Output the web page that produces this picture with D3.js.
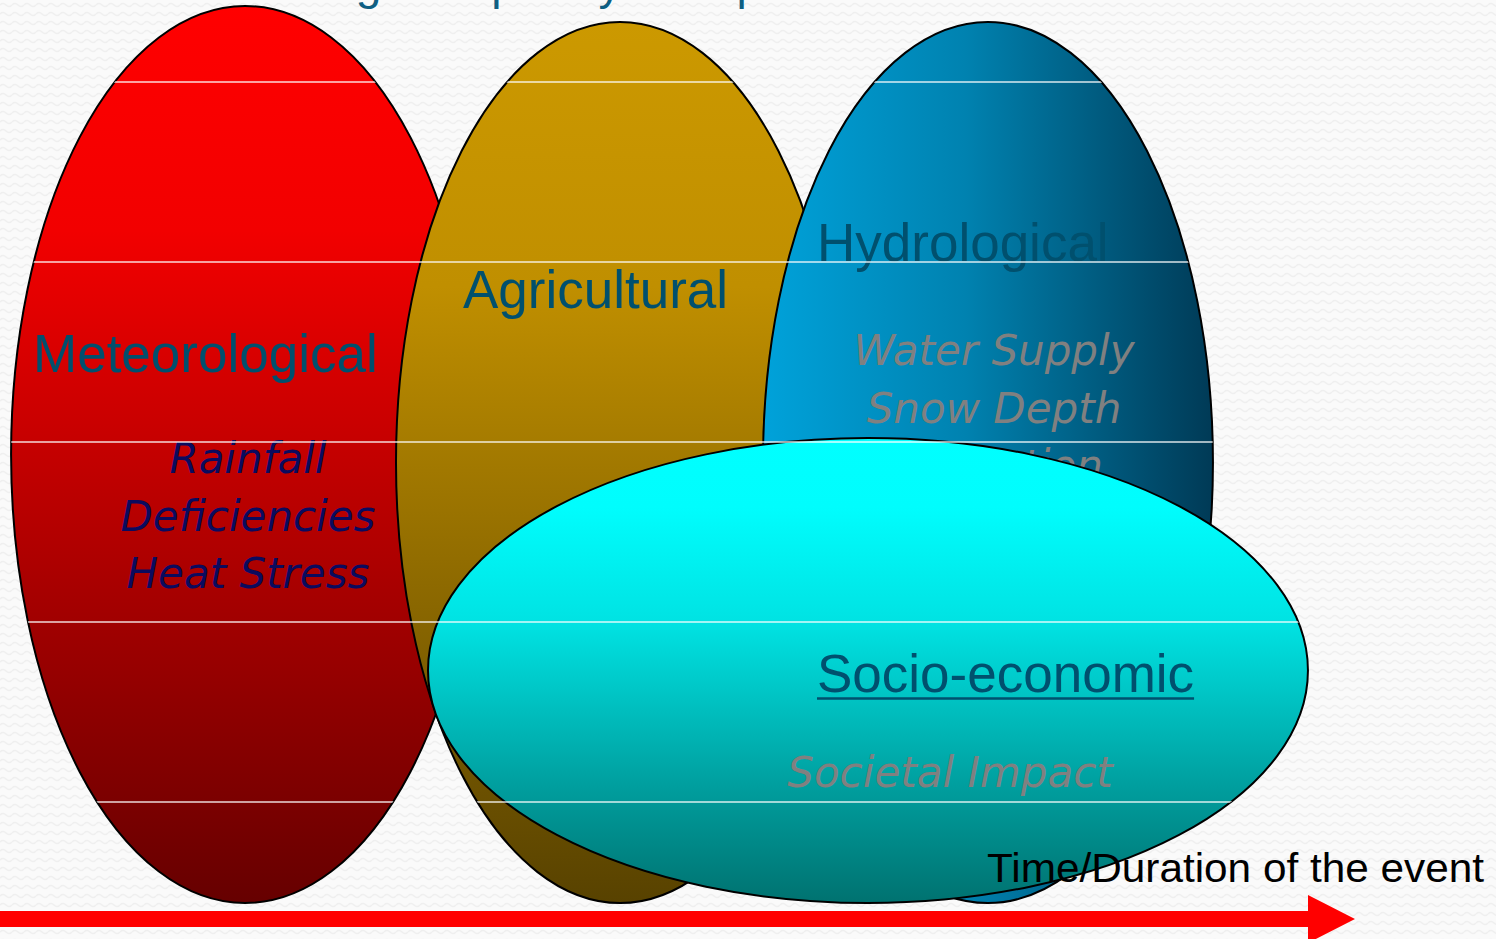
<!DOCTYPE html>
<html>
<head>
<meta charset="utf-8">
<script src="https://cdn.jsdelivr.net/npm/d3@7"></script>
<style>
  html, body { margin: 0; padding: 0; background: #f9f9f9; overflow: hidden; }
  svg { display: block; }
</style>
</head>
<body>
<script>
// ---- Data (in % of time axis / % of impact axis) ----
const droughtTypes = ["Meteorological", "Agricultural", "Hydrological", "Socio-economic"];
const timeStart   = [0.74, 26.47, 51.0, 28.61];
const timeEnd     = [32.02, 56.42, 81.08, 87.43];
const levelTop    = [0.64, 2.34, 2.34, 46.65];
const levelBottom = [96.17, 96.17, 96.17, 96.17];
const indicators  = [
  ["Rainfall", "Deficiencies", "Heat Stress"],
  [],
  ["Water Supply", "Snow Depth", "Infiltration"],
  ["Societal Impact"]
];
const titleText = "Increasing Complexity of Impacts";
const axisLabel = "Time/Duration of the event";

// ---- Layout ----
const W = 1496, H = 939;
const x = d3.scaleLinear().domain([0, 100]).range([0, W]);
const y = d3.scaleLinear().domain([0, 100]).range([0, H]);

const svg = d3.select("body").append("svg").attr("width", W).attr("height", H);
const defs = svg.append("defs");

// background pattern (faint waves)
const pat = defs.append("pattern").attr("id", "bgwave")
  .attr("patternUnits", "userSpaceOnUse").attr("width", 12).attr("height", 9);
pat.append("rect").attr("width", 12).attr("height", 9).attr("fill", "#fafafa");
pat.append("path").attr("d", "M0,5 Q3,2 6,5 T12,5")
  .attr("fill", "none").attr("stroke", "#efefef").attr("stroke-width", 1.4);
svg.append("rect").attr("width", W).attr("height", H).attr("fill", "url(#bgwave)");

// gradients
const gradSpecs = [
  { id: "g0", x2: 0, y2: 1, stops: [[0, "#ff0000"], [0.25, "#f20000"], [1, "#660000"]] },
  { id: "g1", x2: 0, y2: 1, stops: [[0, "#cc9900"], [0.3, "#c08f00"], [1, "#584200"]] },
  { id: "g2", x2: 1, y2: 0, stops: [[0, "#00a2da"], [0.45, "#0082b0"], [1, "#003a56"]] },
  { id: "g3", x2: 0, y2: 1, stops: [[0, "#00ffff"], [0.15, "#00fdfd"], [0.4, "#00e2e2"], [0.75, "#009e9e"], [1, "#007270"]] }
];
gradSpecs.forEach(g => {
  const lg = defs.append("linearGradient").attr("id", g.id)
    .attr("x1", 0).attr("y1", 0).attr("x2", g.x2).attr("y2", g.y2);
  g.stops.forEach(s => lg.append("stop").attr("offset", s[0]).attr("stop-color", s[1]));
});

// clip path: union of ellipses (for the white rulings)
const clip = defs.append("clipPath").attr("id", "shapes");
const ell = i => ({
  cx: (x(timeStart[i]) + x(timeEnd[i])) / 2,
  cy: (y(levelTop[i]) + y(levelBottom[i])) / 2,
  rx: (x(timeEnd[i]) - x(timeStart[i])) / 2,
  ry: (y(levelBottom[i]) - y(levelTop[i])) / 2
});
clip.selectAll("ellipse").data(d3.range(droughtTypes.length)).join("ellipse")
  .attr("cx", i => ell(i).cx).attr("cy", i => ell(i).cy)
  .attr("rx", i => ell(i).rx).attr("ry", i => ell(i).ry);

// title (only its descenders reach into the visible area, as in the reference)
svg.append("text").attr("x", 169).attr("y", -1)
  .attr("font-family", "'Liberation Sans', Arial, sans-serif").attr("font-size", 46)
  .attr("fill", "#0f5f82").text(titleText);

// header label layout: [x, baseline]
const headPos = [[33, 372], [463, 308], [817, 261], [817, 692]];
// indicator layout: [center x, first baseline]
const indPos = [[248, 473], [620, 560], [994, 365], [950, 787]];
const indColor = ["#0b0b5e", "#0b0b5e", "#808080", "#808080"];

const groups = svg.selectAll("g.type").data(d3.range(droughtTypes.length)).join("g").attr("class", "type");
groups.append("ellipse")
  .attr("cx", i => ell(i).cx).attr("cy", i => ell(i).cy)
  .attr("rx", i => ell(i).rx).attr("ry", i => ell(i).ry)
  .attr("fill", i => `url(#g${i})`).attr("stroke", "#000").attr("stroke-width", 2);

groups.append("text")
  .attr("x", i => headPos[i][0]).attr("y", i => headPos[i][1])
  .attr("font-family", "'Liberation Sans', Arial, sans-serif").attr("font-size", 53)
  .attr("fill", "#00506e").text(i => droughtTypes[i]);

groups.each(function(i) {
  const g = d3.select(this);
  g.selectAll("text.ind").data(indicators[i]).join("text").attr("class", "ind")
    .attr("x", indPos[i][0]).attr("y", (d, k) => indPos[i][1] + k * 57.5)
    .attr("text-anchor", "middle")
    .attr("font-family", "'DejaVu Sans', Verdana, sans-serif").attr("font-style", "oblique")
    .attr("font-size", 42).attr("fill", indColor[i]).text(d => d);
});

// underline for Socio-economic
const socT = groups.filter(i => i === 3).select("text");
const socLen = socT.node().getComputedTextLength();
groups.filter(i => i === 3).append("line")
  .attr("x1", headPos[3][0]).attr("x2", headPos[3][0] + socLen)
  .attr("y1", headPos[3][1] + 6.5).attr("y2", headPos[3][1] + 6.5)
  .attr("stroke", "#00506e").attr("stroke-width", 2.6);

// white rulings
const rulings = d3.range(5).map(k => 82 + 180 * k);
svg.append("g").attr("clip-path", "url(#shapes)")
  .selectAll("line").data(rulings).join("line")
  .attr("x1", 0).attr("x2", W).attr("y1", d => d).attr("y2", d => d)
  .attr("stroke", "#ffffff").attr("stroke-opacity", 0.85).attr("stroke-width", 1.4);

// time axis label
svg.append("text").attr("x", 987).attr("y", 882)
  .attr("font-family", "'Liberation Sans', Arial, sans-serif").attr("font-size", 41)
  .attr("textLength", 497).attr("lengthAdjust", "spacingAndGlyphs")
  .attr("fill", "#000").text(axisLabel);

// red arrow (time axis)
const ax0 = x(0), axHead = 1308, axTip = 1355, ay = 919;
svg.append("path")
  .attr("d", `M${ax0},${ay - 8} L${axHead},${ay - 8} L${axHead},${ay - 24} L${axTip},${ay} L${axHead},${ay + 24} L${axHead},${ay + 8} L${ax0},${ay + 8} Z`)
  .attr("fill", "#ff0000");
</script>
</body>
</html>
